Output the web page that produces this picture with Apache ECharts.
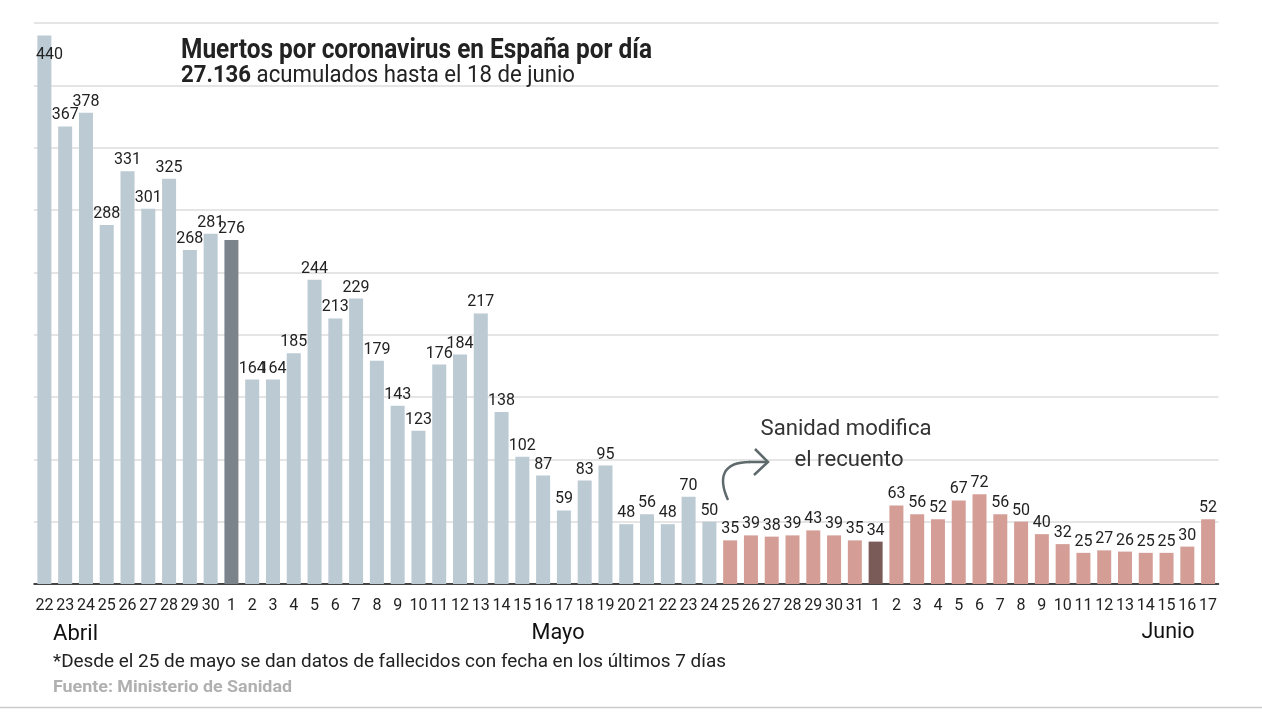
<!DOCTYPE html>
<html>
<head>
<meta charset="utf-8">
<script src="https://cdn.jsdelivr.net/npm/echarts@6/dist/echarts.min.js"></script>
<style>
html,body{margin:0;padding:0;background:#fff;}
#chart{width:1262px;height:718px;}
</style>
</head>
<body>
<div id="chart"></div>
<script>
// ---- data ----
const days = ['22','23','24','25','26','27','28','29','30',
  '1','2','3','4','5','6','7','8','9','10','11','12','13','14','15','16','17','18','19','20','21','22','23','24','25','26','27','28','29','30','31',
  '1','2','3','4','5','6','7','8','9','10','11','12','13','14','15','16','17'];
const deaths = [440,367,378,288,331,301,325,268,281,
  276,164,164,185,244,213,229,179,143,123,176,184,217,138,102,87,59,83,95,48,56,48,70,50,35,39,38,39,43,39,35,
  34,63,56,52,67,72,56,50,40,32,25,27,26,25,25,30,52];
const monthNames = ['Abril','Mayo','Junio'];
const titleText = 'Muertos por coronavirus en España por día';
const totalText = '27.136';
const subText = ' acumulados hasta el 18 de junio';
const noteText = '*Desde el 25 de mayo se dan datos de fallecidos con fecha en los últimos 7 días';
const sourceText = 'Fuente: Ministerio de Sanidad';
const annotLines = ['Sanidad modifica','el recuento'];
const newCountStart = 33;       // index of 25 de mayo
const monthStarts = [9, 40];    // 1 de mayo, 1 de junio

// ---- styling helpers ----
const FONT = 'Roboto, "Noto Sans", sans-serif';
const mctx = document.createElement('canvas').getContext('2d');
function measure(text, size, weight){
  mctx.font = (weight||'normal') + ' ' + size + 'px Roboto';
  return mctx.measureText(text).width;
}
function txt(text, x, y, size, weight, fill, width, align){
  const s = width / measure(text, size, weight);
  return {type:'text', x:x, y:y, scaleX:s, z:10,
    style:{text:text, fontSize:size, fontWeight:weight||'normal', fontFamily:FONT,
      fill:fill, align:align||'left', verticalAlign:'middle'}};
}

const barData = deaths.map((v,i)=>{
  let c;
  if (i >= newCountStart) c = monthStarts.indexOf(i) >= 0 ? '#7b5b57' : '#d49e97';
  else c = monthStarts.indexOf(i) >= 0 ? '#7b848b' : '#bccad3';
  const item = {value:v, itemStyle:{color:c}};
  if (i === 0) item.label = {position:'insideTop', distance:0, offset:[5, 12]};
  return item;
});

const subScale = 394 / (measure(totalText,24,'bold') + measure(subText,24,'normal'));

const chart = echarts.init(document.getElementById('chart'));
chart.setOption({
  animation:false,
  backgroundColor:'#fff',
  grid:{left:34, right:43.5, top:23, bottom:134},
  xAxis:{
    type:'category', data:days,
    axisLine:{lineStyle:{color:'#111', width:1.5}},
    axisTick:{alignWithLabel:true, length:9, lineStyle:{color:'#111', width:1.5}},
    axisLabel:{interval:0, fontSize:16, fontFamily:FONT, color:'#222', margin:14}
  },
  yAxis:{
    type:'value', min:0, max:450, interval:50,
    axisLabel:{show:false}, axisLine:{show:false}, axisTick:{show:false},
    splitLine:{lineStyle:{color:'#dcdcdc', width:1.5}}
  },
  series:[{
    type:'bar', data:barData, barWidth:14,
    label:{show:true, position:'top', distance:3, fontSize:16, fontFamily:FONT, color:'#222'}
  }],
  graphic:[
    txt(titleText, 181, 51, 28, 'bold', '#222', 471, 'left'),
    {type:'text', x:181, y:76, scaleX:subScale, z:10,
      style:{text:'{b|'+totalText+'}'+subText, fontSize:24, fontFamily:FONT, fill:'#222',
        align:'left', verticalAlign:'middle',
        rich:{b:{fontWeight:'bold', fontSize:24, fontFamily:FONT, fill:'#222'}}}},
    txt(annotLines[0], 846, 429, 22, 'normal', '#333', 171, 'center'),
    txt(annotLines[1], 849, 460, 22, 'normal', '#333', 109, 'center'),
    {type:'bezierCurve', z:10,
      shape:{x1:728, y1:500, cpx1:718, cpy1:478, cpx2:722, cpy2:462, x2:750, y2:462},
      style:{stroke:'#5f6a6d', lineWidth:2.5, fill:null}},
    {type:'polyline', z:10, shape:{points:[[749,462],[768,462]]},
      style:{stroke:'#5f6a6d', lineWidth:2.5, fill:null}},
    {type:'polyline', z:10, shape:{points:[[755,449],[768,462],[754,475]]},
      style:{stroke:'#5f6a6d', lineWidth:2.5, fill:null}},
    txt(monthNames[0], 53, 634, 22, 'normal', '#111', 45, 'left'),
    txt(monthNames[1], 558, 633, 22, 'normal', '#111', 53, 'center'),
    txt(monthNames[2], 1168, 632, 22, 'normal', '#111', 53, 'center'),
    txt(noteText, 53, 662, 18, 'normal', '#222', 673, 'left'),
    txt(sourceText, 53, 688, 17, 'bold', '#b0b0b0', 239, 'left'),
    {type:'line', z:10, shape:{x1:0, y1:707.5, x2:1262, y2:707.5},
      style:{stroke:'#cccccc', lineWidth:1.5}}
  ]
});
</script>
</body>
</html>
